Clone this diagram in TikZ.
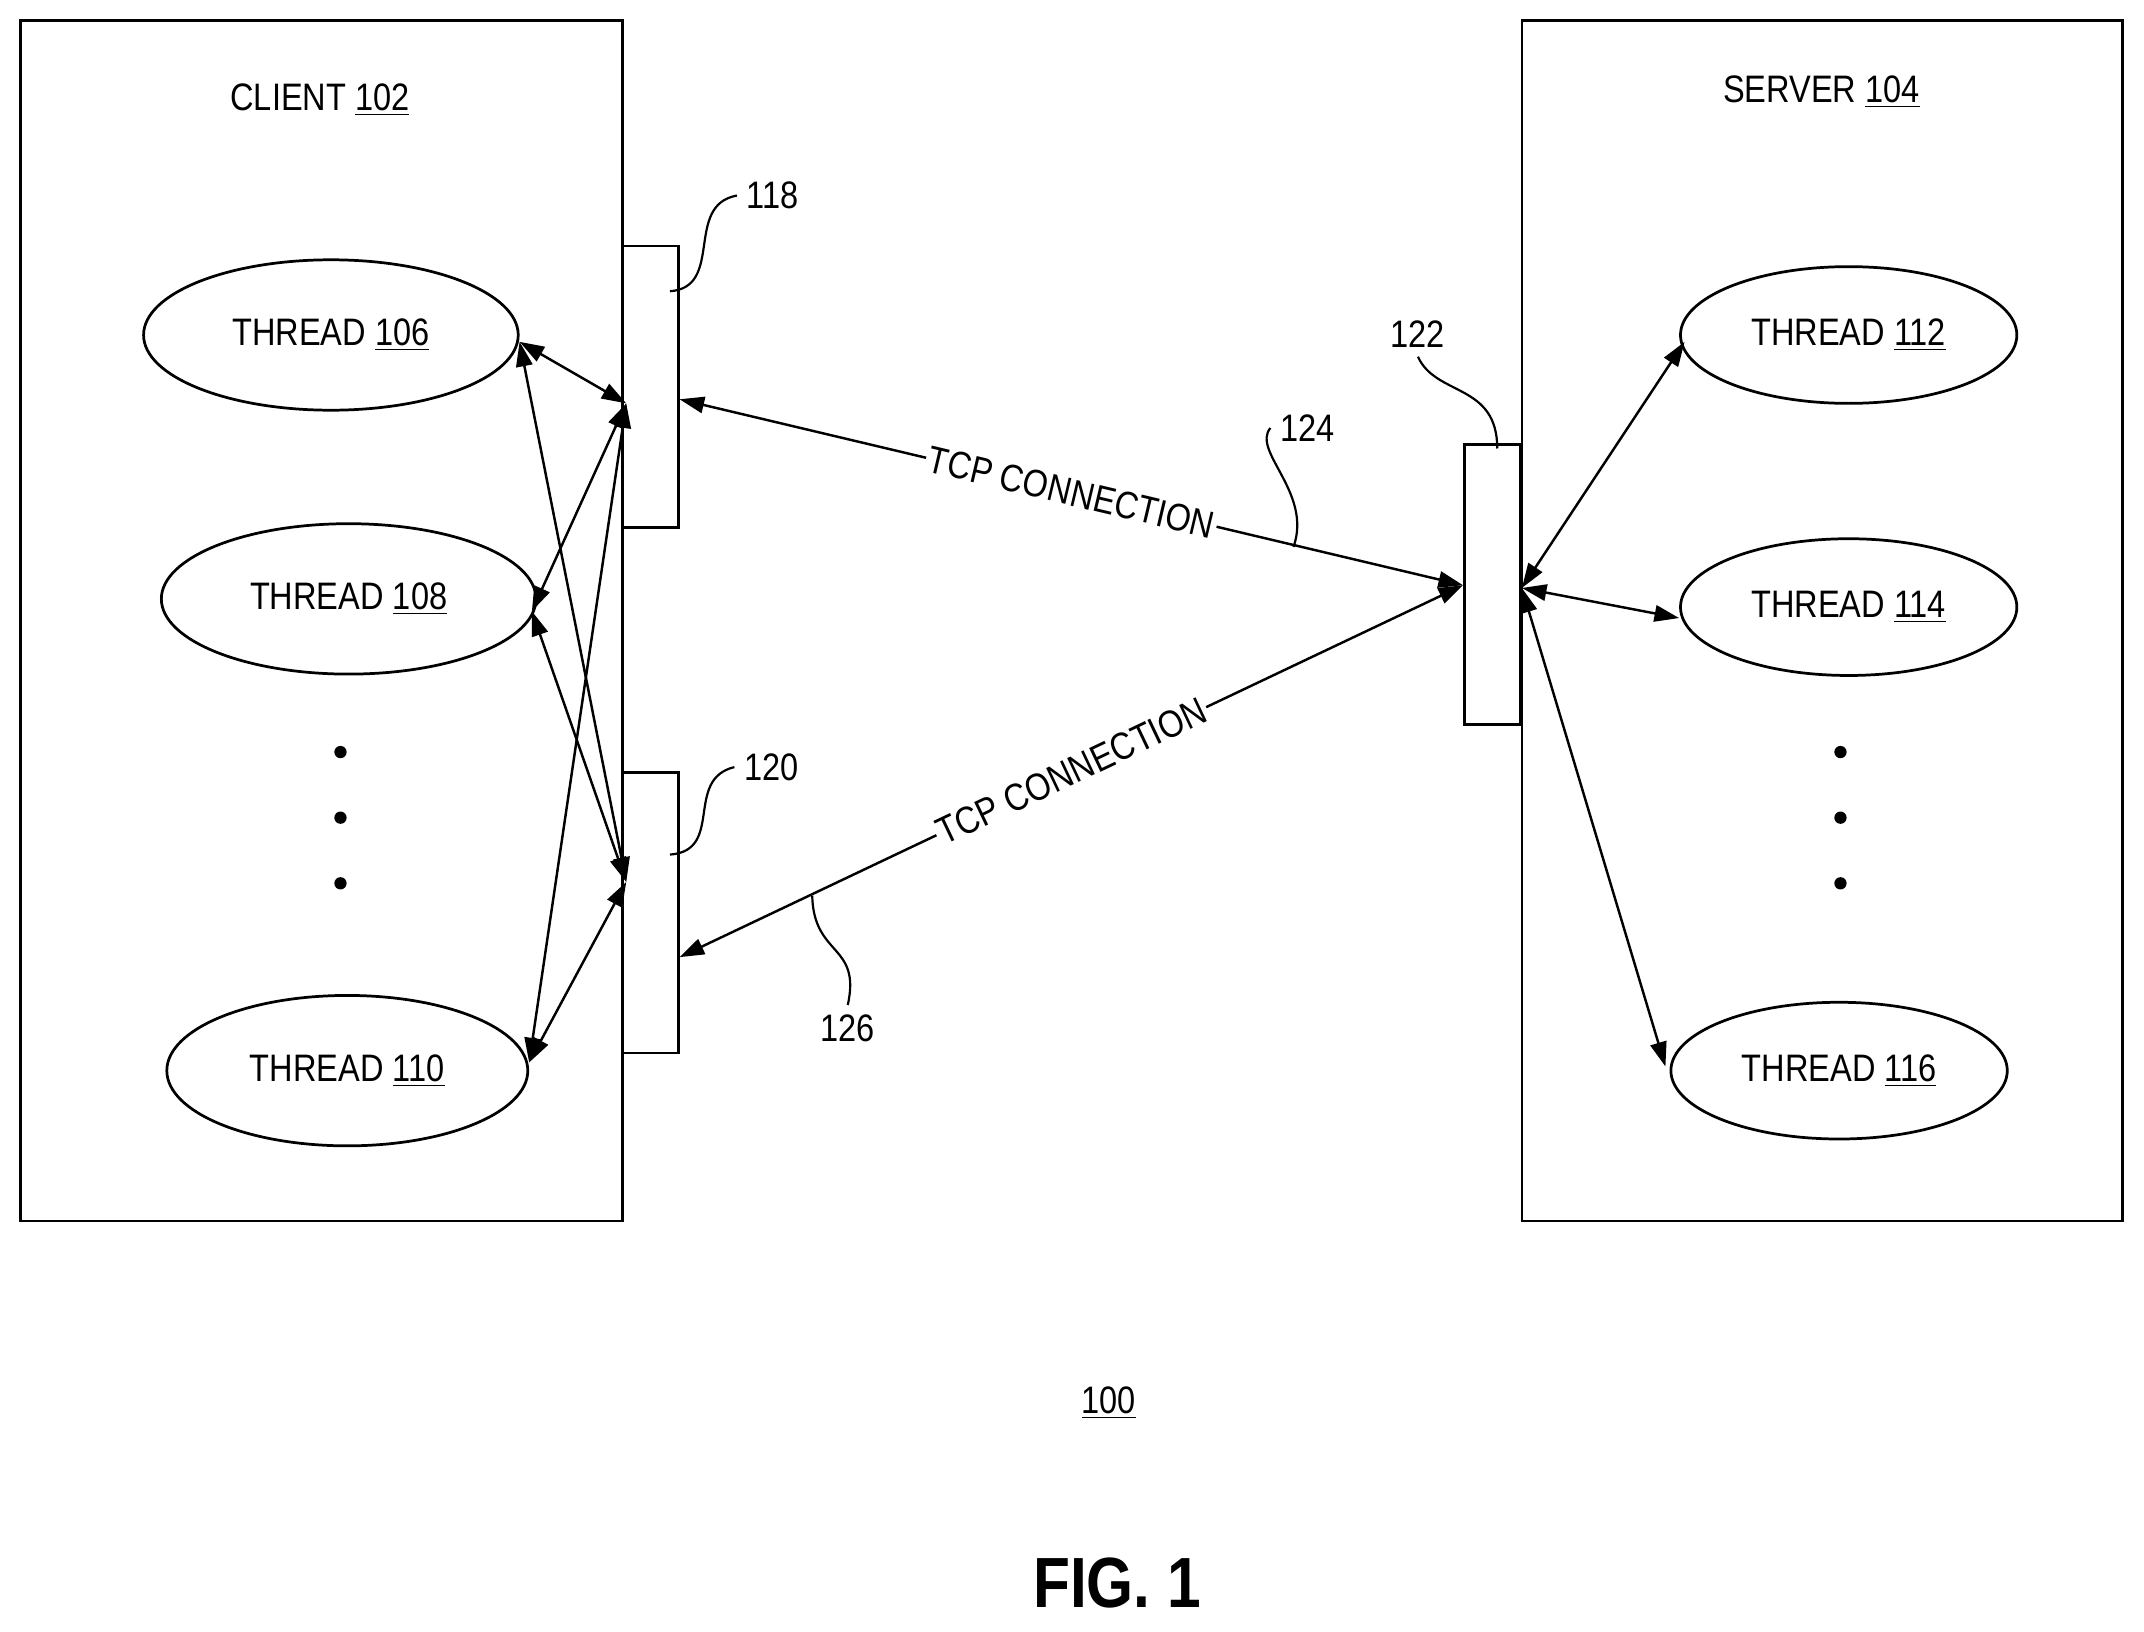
\documentclass[tikz,border=0pt]{standalone}
\usepackage{fontspec}
\setmainfont{Liberation Sans}[FakeStretch=0.85]
\usetikzlibrary{arrows.meta}
\begin{document}
\begin{tikzpicture}[x=0.5pt,y=-0.5pt,
  box/.style={draw,line width=1pt},
  th/.style={draw,line width=1pt},
  ar/.style={{Triangle[length=9pt,width=6pt]}-{Triangle[length=9pt,width=6pt]},line width=0.9pt},
  sq/.style={line width=0.8pt},
  lab/.style={font=\fontsize{14}{16}\selectfont},
  dot/.style={circle,fill,inner sep=0pt,minimum size=4.5pt}]
\useasboundingbox (0,0) rectangle (1568,1193);
\draw[box] (15,15) rectangle (455,893);
\draw[box] (1113,15) rectangle (1552,893);
\node[lab] (cl) at (234,73) {CLIENT \underline{102}};
\node[lab] (sv) at (1332,67) {SERVER \underline{104}};
\draw[th] (242,245) ellipse [x radius=137,y radius=55];
\draw[th] (255,438) ellipse [x radius=137,y radius=55];
\draw[th] (254,783) ellipse [x radius=132,y radius=55];
\draw[th] (1352,245) ellipse [x radius=123,y radius=50];
\draw[th] (1352,444) ellipse [x radius=123,y radius=50];
\draw[th] (1345,783) ellipse [x radius=123,y radius=50];
\node[lab] (t106) at (242,245) {THREAD \underline{106}};
\node[lab] (t108) at (255,438) {THREAD \underline{108}};
\node[lab] (t110) at (254,783) {THREAD \underline{110}};
\node[lab] (t112) at (1352,245) {THREAD \underline{112}};
\node[lab] (t114) at (1352,444) {THREAD \underline{114}};
\node[lab] (t116) at (1345,783) {THREAD \underline{116}};
\foreach \y in {550,598,646}{\node[dot] at (249,\y){}; \node[dot] at (1346,\y){};}
\draw[box] (455,180) rectangle (496,386);
\draw[box] (455,565) rectangle (496,770);
\draw[box] (1071,325) rectangle (1112,530);
\coordinate (A) at (458,295);
\coordinate (B) at (458,645);
\coordinate (C) at (1113,430);
\coordinate (a106) at (380,250);
\coordinate (a108) at (389,447);
\coordinate (a110) at (387,777);
\foreach \p in {a106,a108,a110}{\draw[ar] (\p) -- (A); \draw[ar] (\p) -- (B);}
\draw[ar] (C) -- (1232,250);
\draw[ar] (C) -- (1228,452);
\draw[ar] (C) -- (1218,780);
\draw[ar] (497,292) -- node[lab,fill=white,inner sep=1pt,sloped]{TCP CONNECTION} (1070,428);
\draw[ar] (497,700) -- node[lab,fill=white,inner sep=1pt,sloped,pos=0.5]{TCP CONNECTION} (1070,428);
\node[lab] (n118) at (565,143) {118};
\node[lab] (n120) at (564,561) {120};
\node[lab] (n122) at (1037,244) {122};
\node[lab] (n124) at (956,313) {124};
\node[lab] (n126) at (620,752) {126};
\draw[sq] (490,213) .. controls (530,210) and (500,150) .. (n118.west);
\draw[sq] (490,625) .. controls (530,622) and (500,570) .. (n120.west);
\draw[sq] (n122.south) .. controls (1050,290) and (1095,280) .. (1095,328);
\draw[sq] (n124.west) .. controls (915,330) and (960,360) .. (946,400);
\draw[sq] (594,655) .. controls (595,700) and (630,690) .. (n126.north);
\node[lab] (n100) at (811,1026) {\underline{100}};
\node[font=\bfseries\fontsize{26}{30}\selectfont] (fig) at (817,1158) {FIG. 1};
\end{tikzpicture}
\end{document}
